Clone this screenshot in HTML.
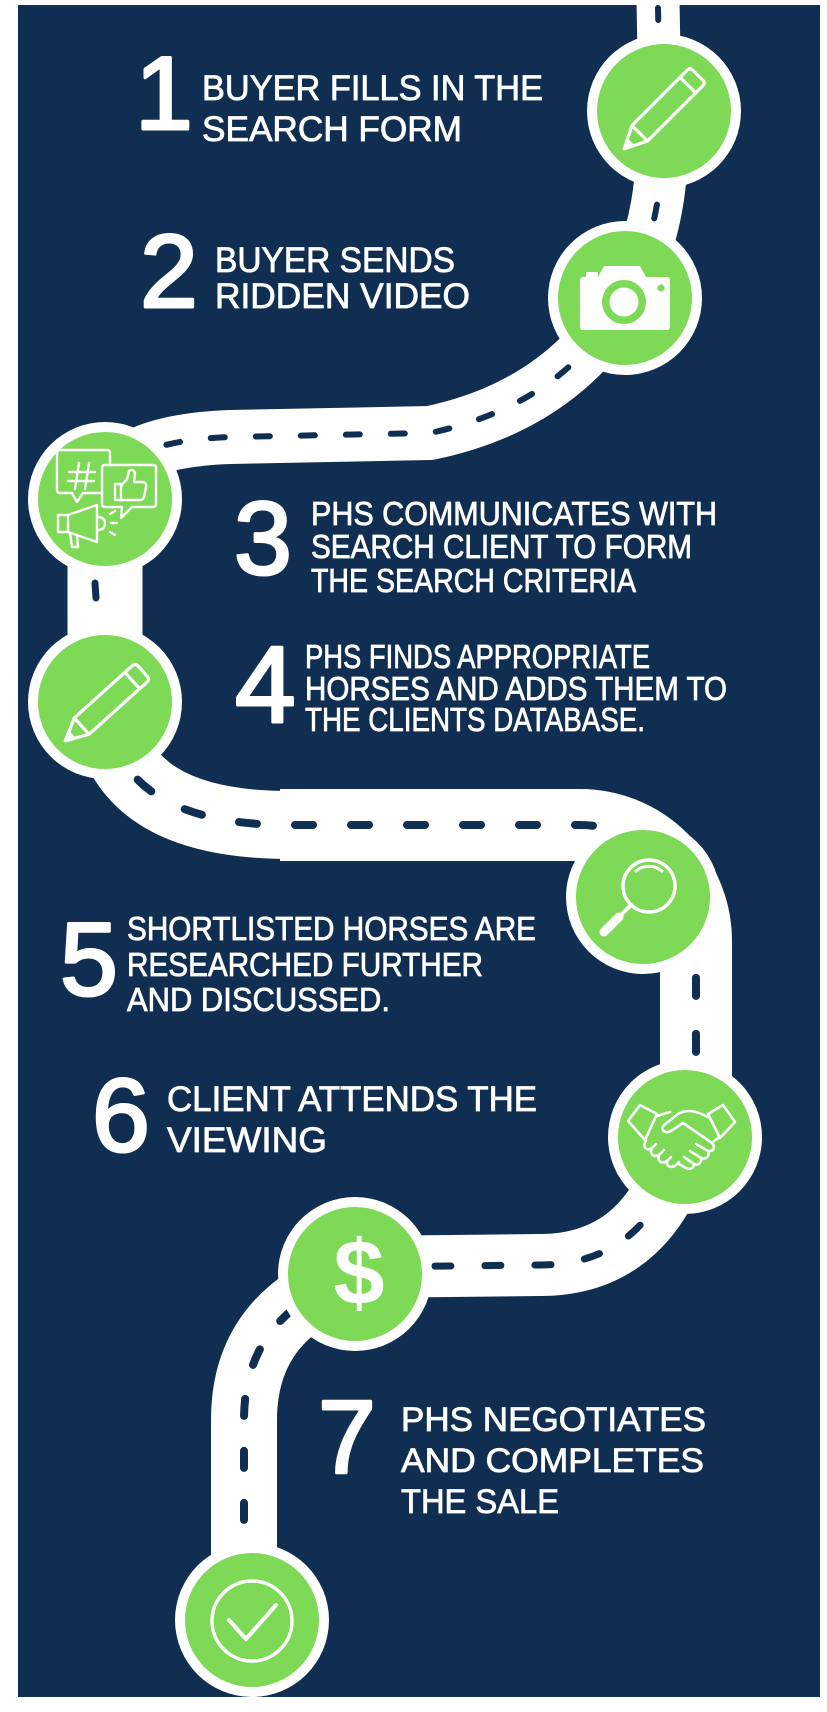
<!DOCTYPE html>
<html><head><meta charset="utf-8">
<style>
html,body{margin:0;padding:0;background:#fff;}
svg{display:block;}
</style></head><body>
<svg width="827" height="1712" viewBox="0 0 827 1712" xmlns="http://www.w3.org/2000/svg">
<rect x="0" y="0" width="827" height="1712" fill="#ffffff"/>
<rect x="18" y="5" width="802" height="1692" fill="#102d52"/>

<!-- ROAD -->
<g fill="none" stroke="#ffffff" stroke-linecap="butt" stroke-linejoin="round">
  <path d="M658 0 L660 111" stroke-width="43"/>
  <path d="M664 111 C662 180 660 230 625 298" stroke-width="52"/>
  <path d="M625 298 C595 350 540 410 430 433 L230 437 C150 440 108 460 105 499" stroke-width="54"/>
  <path d="M105 499 L105 702" stroke-width="75"/>
  <path d="M105 702 C112 790 180 825 290 825" stroke-width="68"/>
  <path d="M280 825 L580 825 A116 116 0 0 1 696 941 L696 1100 L686 1137" stroke-width="72"/>
  <path d="M685 1137 C665 1215 620 1265 540 1265 L355 1267" stroke-width="62"/>
  <path d="M355 1274 C290 1300 244 1340 244 1420 L244 1560 L252 1620" stroke-width="66"/>
</g>

<!-- DASHES -->
<g fill="none" stroke="#102d52" stroke-linecap="round">
  <path d="M658 8 L660 111" stroke-width="6" stroke-dasharray="12 30"/>
  <path d="M664 111 C662 180 660 230 625 298" stroke-width="6" stroke-dasharray="14 30" stroke-dashoffset="-50"/>
  <path d="M625 298 C595 350 540 410 430 433 L230 437 C150 440 108 460 105 499" stroke-width="6" stroke-dasharray="14 31"/>
  <path d="M95 583 L96 598" stroke-width="7"/>
  <path d="M105 702 C112 790 180 825 290 825 L580 825 A116 116 0 0 1 696 941 L696 1137" stroke-width="8" stroke-dasharray="18 38" stroke-dashoffset="-30"/>
  <path d="M685 1137 C665 1215 620 1265 540 1265 L355 1267" stroke-width="7" stroke-dasharray="16 34"/>
  <path d="M355 1274 C290 1300 244 1340 244 1420 L244 1560 L252 1620" stroke-width="8" stroke-dasharray="17 35" stroke-dashoffset="-20"/>
</g>

<!-- CIRCLES -->
<g>
  <circle cx="664" cy="111" r="77" fill="#fff"/><circle cx="664" cy="111" r="67" fill="#7ed957"/>
  <circle cx="625" cy="298" r="77" fill="#fff"/><circle cx="625" cy="298" r="67" fill="#7ed957"/>
  <circle cx="105" cy="499" r="77" fill="#fff"/><circle cx="105" cy="499" r="67" fill="#7ed957"/>
  <circle cx="105" cy="702" r="77" fill="#fff"/><circle cx="105" cy="702" r="67" fill="#7ed957"/>
  <circle cx="643" cy="897" r="77" fill="#fff"/><circle cx="643" cy="897" r="67" fill="#7ed957"/>
  <circle cx="685" cy="1137" r="77" fill="#fff"/><circle cx="685" cy="1137" r="67" fill="#7ed957"/>
  <circle cx="355" cy="1274" r="77" fill="#fff"/><circle cx="355" cy="1274" r="67" fill="#7ed957"/>
  <circle cx="252" cy="1620" r="77" fill="#fff"/><circle cx="252" cy="1620" r="67" fill="#7ed957"/>
</g>

<!-- ICON: pencil 1 -->
<g transform="translate(661 112) rotate(-45)" fill="none" stroke="#fff" stroke-width="3.2" stroke-linejoin="round">
  <path d="M-30 -11 L48 -11 Q52 -11 52 -7 L52 7 Q52 11 48 11 L-30 11 Z"/>
  <path d="M38 -11 L38 11"/>
  <path d="M-30 -11 L-52 0 L-30 11"/>
  <path d="M-44 -4 L-52 0 L-44 4 Z" fill="#fff"/>
</g>
<!-- ICON: pencil 4 -->
<g transform="translate(104 706) rotate(-42)" fill="none" stroke="#fff" stroke-width="3.2" stroke-linejoin="round">
  <path d="M-30 -11 L48 -11 Q52 -11 52 -7 L52 7 Q52 11 48 11 L-30 11 Z"/>
  <path d="M38 -11 L38 11"/>
  <path d="M-30 -11 L-52 0 L-30 11"/>
  <path d="M-44 -4 L-52 0 L-44 4 Z" fill="#fff"/>
</g>

<!-- ICON: camera -->
<g fill="#fff">
  <rect x="580" y="277" width="90" height="53" rx="3"/>
  <path d="M597 279 L604 266 L640 266 L647 279 Z"/>
  <rect x="586" y="272" width="12" height="7" rx="1"/>
  <circle cx="624" cy="302" r="22" fill="#7ed957"/>
  <circle cx="624" cy="302" r="14.5" fill="#fff"/>
  <circle cx="661" cy="288" r="3.6" fill="#7ed957"/>
</g>

<!-- ICON: social -->
<g fill="none" stroke="#fff" stroke-width="2.4" stroke-linejoin="round" stroke-linecap="round">
  <path d="M110 465 L110 453 Q110 450 107 450 L60 450 Q57 450 57 453 L57 490 Q57 493 60 493 L72 493 L77 502 L83 493 L102 493"/>
  <path d="M79 463 L75 489 M89 463 L85 489 M69 472 L95 472 M68 481 L94 481"/>
  <path d="M105 465 L153 465 Q156 465 156 468 L156 504 Q156 507 153 507 L132 507 L121 518 L122 507 L105 507 Q102 507 102 504 L102 468 Q102 465 105 465 Z" fill="#7ed957"/>
  <path d="M115 484 L121 484 L121 500 L115 500 Z"/>
  <path d="M121 486 L127 479 L129 471 Q133 468 135 473 L134 482 L143 482 Q147 483 146 487 L144 497 Q143 500 140 500 L121 500"/>
  <path d="M58 515 L68 515 L68 532 L58 532 Z"/>
  <path d="M68 515 L97 505 L97 542 L68 532"/>
  <path d="M70 533 L72 547 L78 547 L77 535"/>
  <path d="M97 517 Q105 517 105 523.5 Q105 530 97 530"/>
  <path d="M110 514 L115 511 M111 523 L117 523 M110 532 L115 535"/>
</g>

<!-- ICON: magnifier -->
<g fill="none" stroke="#fff" stroke-linecap="round">
  <circle cx="649" cy="886" r="26" stroke-width="3.5"/>
  <path d="M636 871 A20 20 0 0 1 662 871" stroke-width="3"/>
  <path d="M631 905 L620 916" stroke-width="4"/>
  <path d="M619 917 L604 932" stroke-width="9"/>
</g>

<!-- ICON: handshake -->
<g fill="none" stroke="#fff" stroke-width="2.6" stroke-linejoin="round" stroke-linecap="round">
  <path d="M628 1121 L640 1105 L657 1114 L645 1140 Z"/>
  <path d="M708 1114 L723 1105 L735 1122 L720 1138 Z"/>
  <path d="M657 1116 L670 1112"/>
  <path d="M708 1117 C698 1112 688 1108 678 1114 L664 1125 C660 1130 665 1134 671 1131 L683 1123 L712 1143"/>
  <path d="M720 1137 L714 1141"/>
  <path d="M712 1143 C716 1147 713 1152 708 1151 L696 1144"/>
  <path d="M708 1151 C710 1156 706 1160 701 1158 L690 1151"/>
  <path d="M701 1158 C702 1163 698 1166 694 1164 L684 1157"/>
  <path d="M694 1164 C694 1168 690 1170 686 1168 L679 1164"/>
  <path d="M646 1141 C642 1146 646 1152 652 1148 L656 1144"/>
  <path d="M652 1148 C649 1153 653 1158 659 1155 L664 1150"/>
  <path d="M659 1155 C657 1160 661 1165 667 1161 L671 1157"/>
  <path d="M667 1161 C666 1166 671 1169 676 1165 L679 1162"/>
</g>

<!-- ICON: dollar -->
<text x="359" y="1304" font-family="Liberation Sans, sans-serif" font-weight="bold" font-size="92" fill="#fff" text-anchor="middle">$</text>

<!-- ICON: check -->
<g fill="none" stroke="#fff" stroke-linecap="round" stroke-linejoin="round">
  <circle cx="252" cy="1621" r="40" stroke-width="3.5"/>
  <path d="M229 1620 L246 1639 L276 1605" stroke-width="4"/>
</g>

<!-- NUMBERS -->
<g font-family="Liberation Sans, sans-serif" font-size="104" fill="#fff" stroke="#fff" stroke-width="3" stroke-linejoin="round">
  <text x="135" y="129">1</text>
  <text x="140" y="307">2</text>
  <text x="234" y="574">3</text>
  <text x="235" y="722" font-size="109">4</text>
  <text x="60" y="995">5</text>
  <text x="92" y="1151">6</text>
  <text x="318" y="1473">7</text>
</g>

<!-- TEXT -->
<g font-family="Liberation Sans, sans-serif" fill="#fff" stroke="#fff" stroke-width="0.8">
  <text x="202" y="100" font-size="35" textLength="341" lengthAdjust="spacingAndGlyphs">BUYER FILLS IN THE</text>
  <text x="202" y="141" font-size="35" textLength="260" lengthAdjust="spacingAndGlyphs">SEARCH FORM</text>
  <text x="215" y="272" font-size="35" textLength="240" lengthAdjust="spacingAndGlyphs">BUYER SENDS</text>
  <text x="215" y="308" font-size="35" textLength="255" lengthAdjust="spacingAndGlyphs">RIDDEN VIDEO</text>

  <text x="311" y="525" font-size="33" textLength="406" lengthAdjust="spacingAndGlyphs">PHS COMMUNICATES WITH</text>
  <text x="311" y="558" font-size="33" textLength="381" lengthAdjust="spacingAndGlyphs">SEARCH CLIENT TO FORM</text>
  <text x="311" y="592" font-size="33" textLength="325" lengthAdjust="spacingAndGlyphs">THE SEARCH CRITERIA</text>

  <text x="305" y="668" font-size="33" textLength="345" lengthAdjust="spacingAndGlyphs">PHS FINDS APPROPRIATE</text>
  <text x="305" y="700" font-size="33" textLength="422" lengthAdjust="spacingAndGlyphs">HORSES AND ADDS THEM TO</text>
  <text x="305" y="731" font-size="33" textLength="340" lengthAdjust="spacingAndGlyphs">THE CLIENTS DATABASE.</text>

  <text x="127" y="940" font-size="33" textLength="409" lengthAdjust="spacingAndGlyphs">SHORTLISTED HORSES ARE</text>
  <text x="127" y="976" font-size="33" textLength="356" lengthAdjust="spacingAndGlyphs">RESEARCHED FURTHER</text>
  <text x="127" y="1011" font-size="33" textLength="263" lengthAdjust="spacingAndGlyphs">AND DISCUSSED.</text>

  <text x="167" y="1111" font-size="35" textLength="370" lengthAdjust="spacingAndGlyphs">CLIENT ATTENDS THE</text>
  <text x="167" y="1152" font-size="35" textLength="160" lengthAdjust="spacingAndGlyphs">VIEWING</text>

  <text x="401" y="1431" font-size="34" textLength="305" lengthAdjust="spacingAndGlyphs">PHS NEGOTIATES</text>
  <text x="401" y="1472" font-size="34" textLength="303" lengthAdjust="spacingAndGlyphs">AND COMPLETES</text>
  <text x="401" y="1513" font-size="34" textLength="158" lengthAdjust="spacingAndGlyphs">THE SALE</text>
</g>
</svg>
</body></html>
